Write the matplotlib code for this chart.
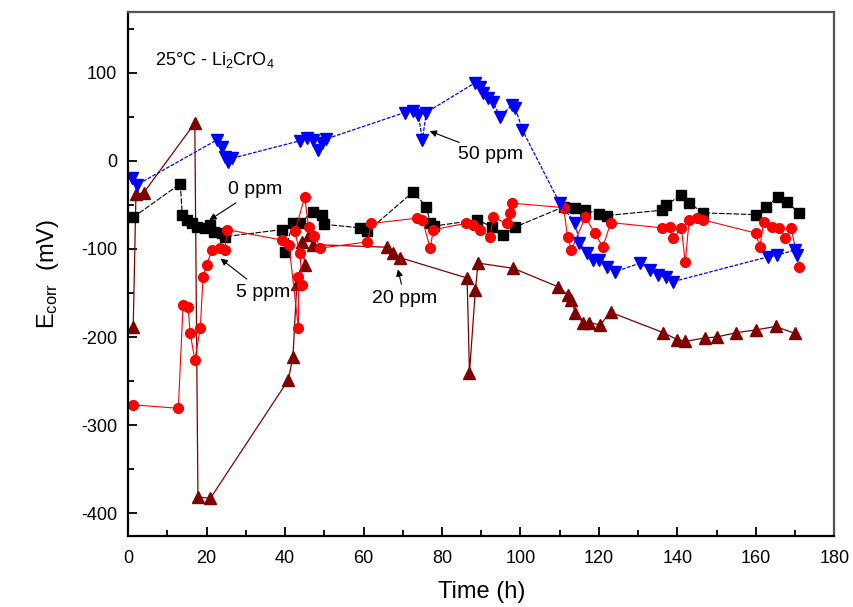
import matplotlib
matplotlib.use("Agg")
import matplotlib.pyplot as plt
from matplotlib.ticker import MultipleLocator

plt.rcParams['font.family'] = ['Liberation Sans', 'DejaVu Sans']
plt.rcParams['mathtext.default'] = 'regular'
plt.rcParams['axes.unicode_minus'] = False

# 0 ppm (black squares)
t_0 = [1.3, 13.3, 13.8, 15.0, 16.3, 17.6, 19.6, 21.0, 22.0, 24.0, 24.7,
       39.3, 40.0, 42.0, 43.8, 47.0, 49.5, 50.0, 59.0, 61.0, 72.7, 76.0,
       77.0, 78.0, 89.0, 92.8, 95.6, 98.7, 111.0, 114.0, 116.5, 120.0,
       122.0, 136.0, 137.0, 141.0, 143.0, 146.6, 160.0, 162.5, 165.7,
       168.0, 171.0]
e_0 = [-64, -26, -61, -67, -70, -75, -76, -73, -81, -82, -86,
       -78, -103, -70, -70, -58, -61, -72, -76, -80, -35, -52,
       -70, -74, -67, -75, -84, -75, -52, -53, -56, -60,
       -62, -56, -50, -39, -48, -59, -61, -52, -41,
       -47, -59]

# 5 ppm (red circles)
t_5 = [1.3, 12.8, 14.0, 15.3, 15.8, 17.0, 18.4, 19.1, 20.0, 21.4, 23.5,
       24.7, 25.2, 39.3, 41.0, 43.4, 43.4, 44.4, 43.8, 42.5, 45.0, 46.0,
       47.5, 49.0, 61.0, 62.0, 73.7, 75.0, 77.0, 77.8, 86.0, 88.0, 89.8,
       92.3, 93.0, 96.6, 97.4, 97.9, 111.0, 112.0, 113.0, 116.5, 119.0,
       121.0, 123.0, 136.0, 138.0, 139.0, 141.0, 142.0, 143.0, 145.0,
       146.6, 160.0, 161.0, 162.0, 164.0, 166.0, 167.5, 169.0, 171.0]
e_5 = [-277, -281, -164, -166, -195, -226, -190, -132, -118, -101, -99,
       -101, -78, -90, -95, -190, -132, -141, -105, -80, -41, -75,
       -85, -99, -92, -71, -65, -67, -99, -78, -71, -73, -78,
       -86, -64, -71, -59, -48, -53, -86, -101, -64, -82,
       -98, -70, -76, -75, -88, -76, -115, -67, -65,
       -67, -82, -98, -69, -75, -76, -88, -76, -120]

# 20 ppm (dark red triangles)
t_20 = [1.3, 2.0, 4.0, 17.0, 17.8, 21.0, 40.8, 42.0, 43.0, 45.0, 44.4,
        46.0, 47.0, 66.0, 67.6, 69.4, 86.4, 87.0, 88.5, 89.2, 98.2, 109.6,
        112.0, 113.0, 114.0, 116.0, 117.5, 120.3, 123.0, 136.4, 140.0,
        142.0, 147.0, 150.0, 155.0, 160.0, 165.0, 170.0]
e_20 = [-189, -38, -36, 43, -382, -383, -249, -223, -140, -118, -92,
        -84, -95, -98, -105, -110, -133, -241, -147, -116, -122, -143,
        -152, -158, -173, -184, -184, -186, -172, -195, -203,
        -205, -201, -200, -195, -192, -188, -196]

# 50 ppm (blue down-triangles)
t_50 = [1.0, 2.3, 22.7, 24.0, 24.7, 25.5, 26.5, 43.9, 45.6, 47.2, 48.4,
        49.5, 50.5, 70.5, 72.5, 74.0, 75.0, 76.0, 88.5, 89.7, 90.5, 91.8,
        93.0, 94.8, 97.9, 98.7, 100.5, 110.0, 114.0, 115.0, 117.0, 118.6,
        120.0, 122.0, 124.0, 130.5, 133.0, 135.0, 137.0, 139.0, 163.0,
        165.5, 170.0, 170.5]
e_50 = [-19, -27, 24, 16, 5, -1, 3, 23, 26, 24, 12,
        20, 25, 55, 57, 52, 24, 55, 89, 84, 77, 72,
        67, 50, 64, 60, 35, -48, -71, -93, -105, -112,
        -113, -120, -126, -116, -124, -130, -132, -137, -109,
        -107, -101, -107]

fig = plt.figure(figsize=(8.54, 6.07), dpi=100)
ax = fig.add_axes([0.150, 0.117, 0.827, 0.863])

ax.plot(t_20, e_20, color='#800000', marker='^', ms=9, lw=0.9, ls='-')
ax.plot(t_0, e_0, color='black', marker='s', ms=6.5, lw=0.8, ls=(0, (5, 1.5)))
ax.plot(t_5, e_5, color='red', marker='o', ms=7, lw=0.8, ls='-')
ax.plot(t_50, e_50, color='blue', marker='v', ms=9, lw=0.9, ls=(0, (3, 1.2)))

ax.set_xlim(0, 180)
ax.set_ylim(-426, 169)
ax.xaxis.set_major_locator(MultipleLocator(20))
ax.xaxis.set_minor_locator(MultipleLocator(10))
ax.yaxis.set_major_locator(MultipleLocator(100))
ax.yaxis.set_minor_locator(MultipleLocator(50))
ax.tick_params(which='both', direction='in', top=False, right=False,
               labelsize=13, width=1.3)
ax.tick_params(which='major', length=6.5)
ax.tick_params(which='minor', length=4.3)
ax.tick_params(axis='y', pad=8)
ax.tick_params(axis='x', pad=10)
for s in ['left', 'bottom']:
    ax.spines[s].set_linewidth(1.6)
for s in ['top', 'right']:
    ax.spines[s].set_color('#555555')
    ax.spines[s].set_linewidth(1.6)

ax.set_xlabel('Time (h)', fontsize=17, labelpad=10)
ax.set_ylabel('E$_{corr}$  (mV)', fontsize=17, labelpad=14)

ax.text(6.9, 115, '25°C - Li$_2$CrO$_4$', fontsize=13, va='center')

arrow = dict(arrowstyle='-|>', color='black', lw=0.8, mutation_scale=10)
ax.annotate('0 ppm', xy=(20.1, -69), xytext=(32.5, -33), fontsize=14,
            ha='center', va='center', arrowprops=arrow)
ax.annotate('5 ppm', xy=(23, -109), xytext=(34.5, -149), fontsize=14,
            ha='center', va='center', arrowprops=arrow)
ax.annotate('20 ppm', xy=(68.6, -120), xytext=(70.5, -156), fontsize=14,
            ha='center', va='center', arrowprops=arrow)
ax.annotate('50 ppm', xy=(76.2, 35), xytext=(92.5, 7), fontsize=14,
            ha='center', va='center', arrowprops=arrow)

fig.savefig('out.png', dpi=100)
